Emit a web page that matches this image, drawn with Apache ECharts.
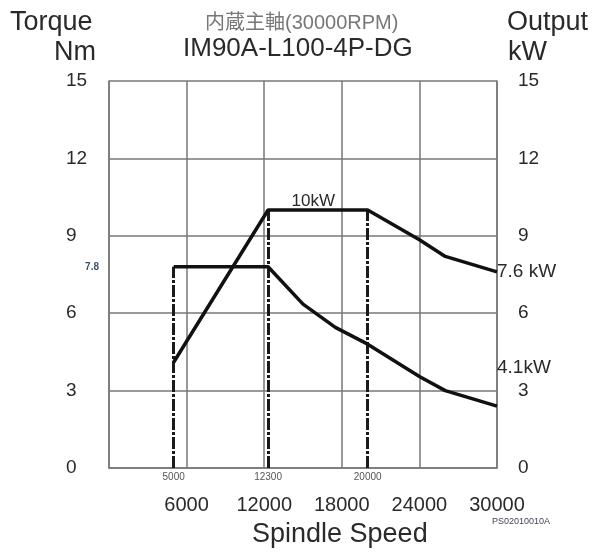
<!DOCTYPE html>
<html><head><meta charset="utf-8">
<script src="https://cdn.jsdelivr.net/npm/echarts@6/dist/echarts.min.js"></script>
<style>html,body{margin:0;padding:0;background:#fff}#c{width:592px;height:552px}</style>
</head><body><div id="c"></div>
<script>
// Data
const speedTicks = [6000, 12000, 18000, 24000, 30000];
const outputPts = [[5000, 4.1], [12300, 10], [20000, 10], [24000, 8.85], [26000, 8.2], [30000, 7.6]];
const torquePts = [[5000, 7.8], [12300, 7.8], [15000, 6.35], [17500, 5.45], [20000, 4.8], [24000, 3.55], [26000, 3.0], [30000, 2.4]];
const markSpeeds = [5000, 12300, 20000];
const markTops = [7.8, 10, 10];
const torqueMaxLabel = ['7.8', 7.8];
const peakLabel = ['10kW', 15800, 10];
const endLabelText = '7.6 kW';
const lowLabel = ['4.1kW', 30000, 3.9];

const FONT = '"Liberation Sans", Arial, sans-serif';
const TXT = '#2a2a2a';
const chart = echarts.init(document.getElementById('c'), null, {renderer: 'canvas'});

const dashedLines = markSpeeds.map((s, i) => [
  {coord: [s, 0], label: {formatter: String(s)}},
  {coord: [s, markTops[i]]}
]);

chart.setOption({
  animation: false,
  backgroundColor: '#fff',
  grid: {left: 109, right: 95, top: 81, bottom: 84},
  xAxis: {
    type: 'value', min: 0, max: 30000, interval: 6000,
    axisLine: {show: true, lineStyle: {color: '#777', width: 1.5}},
    axisTick: {show: false},
    splitLine: {show: true, lineStyle: {color: '#777', width: 1.5}},
    axisLabel: {
      margin: 27, fontSize: 20, color: TXT, fontFamily: FONT,
      formatter: v => speedTicks.includes(v) ? String(v) : ''
    }
  },
  yAxis: [
    {
      type: 'value', min: 0, max: 15, interval: 3, position: 'left',
      axisLine: {show: true, lineStyle: {color: '#777', width: 1.5}},
      axisTick: {show: false},
      splitLine: {show: true, lineStyle: {color: '#777', width: 1.5}},
      axisLabel: {align: 'left', margin: 43, fontSize: 19, color: TXT, fontFamily: FONT, padding: [6, 0, 0, 0]}
    },
    {
      type: 'value', min: 0, max: 15, interval: 3, position: 'right',
      axisLine: {show: true, lineStyle: {color: '#777', width: 1.5}},
      axisTick: {show: false},
      splitLine: {show: false},
      axisLabel: {margin: 21, fontSize: 19, color: TXT, fontFamily: FONT, padding: [6, 0, 0, 0]}
    }
  ],
  series: [
    {
      name: 'Output', type: 'line', yAxisIndex: 1, data: outputPts,
      symbol: 'none', lineStyle: {color: '#111', width: 3.5}, z: 5,
      endLabel: {show: true, formatter: endLabelText, distance: 0, fontSize: 19, color: TXT, fontFamily: FONT},
      markPoint: {
        symbol: 'circle', symbolSize: 0, silent: true,
        data: [
          {coord: [peakLabel[1], peakLabel[2]], label: {show: true, formatter: peakLabel[0], position: 'top', distance: 0, fontSize: 17, color: TXT, fontFamily: FONT}},
          {coord: [lowLabel[1], lowLabel[2]], label: {show: true, formatter: lowLabel[0], position: 'right', distance: 0, fontSize: 19, color: TXT, fontFamily: FONT}}
        ]
      }
    },
    {
      name: 'Torque', type: 'line', yAxisIndex: 0, data: torquePts,
      symbol: 'none', lineStyle: {color: '#111', width: 3.5}, z: 5,
      markLine: {
        silent: true, symbol: 'none',
        lineStyle: {color: '#1a1a1a', width: 3, type: [12, 2, 3, 2]},
        label: {show: true, position: 'start', distance: 4, fontSize: 10, color: '#555', fontFamily: FONT},
        data: dashedLines
      },
      markPoint: {
        symbol: 'circle', symbolSize: 0, silent: true,
        data: [
          {coord: [0, torqueMaxLabel[1]], label: {show: true, formatter: torqueMaxLabel[0], position: 'left', distance: 10, fontSize: 10, fontWeight: 'bold', color: '#3d4f6e', fontFamily: FONT}}
        ]
      }
    }
  ],
  graphic: [
    {type: 'text', left: 10, top: 9, style: {text: 'Torque', fontSize: 27, fill: TXT, fontFamily: FONT}},
    {type: 'text', right: 496, top: 39, style: {text: 'Nm', fontSize: 27, fill: TXT, fontFamily: FONT}},
    {type: 'text', left: 507, top: 9, style: {text: 'Output', fontSize: 27, fill: TXT, fontFamily: FONT}},
    {type: 'text', left: 508, top: 39, style: {text: 'kW', fontSize: 27, fill: TXT, fontFamily: FONT}},
    {type: 'text', left: 205, top: 13, style: {text: '内蔵主軸(30000RPM)', fontSize: 20, fill: '#777', fontFamily: '"Liberation Sans", "Noto Sans CJK JP", sans-serif'}},
    {type: 'text', left: 183, top: 36, style: {text: 'IM90A-L100-4P-DG', fontSize: 26, fill: TXT, fontFamily: FONT}},
    {type: 'text', left: 252, top: 521, style: {text: 'Spindle Speed', fontSize: 27, fill: TXT, fontFamily: FONT}},
    {type: 'text', left: 492, top: 517, style: {text: 'PS02010010A', fontSize: 9, fill: '#445', fontFamily: FONT}}
  ]
});
</script></body></html>
